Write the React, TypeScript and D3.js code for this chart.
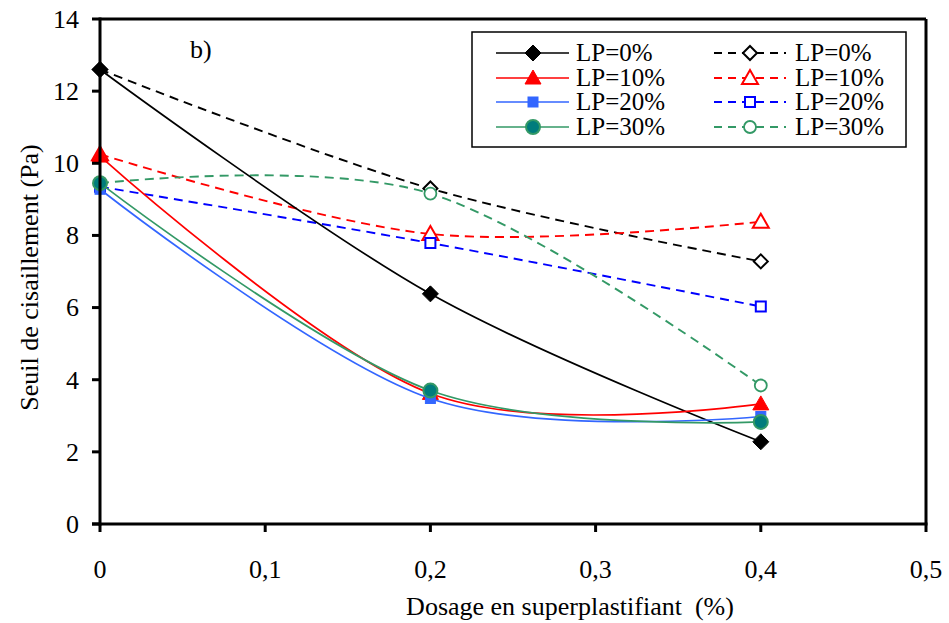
import React from "react";
import * as d3 from "d3";

const dosage = [0, 0.2, 0.4];
const seriesNames = ["LP=0%", "LP=10%", "LP=20%", "LP=30%"];
// solid series (filled markers)
const solidLP0 = [12.6, 6.38, 2.28];
const solidLP10 = [10.2, 3.62, 3.33];
const solidLP20 = [9.28, 3.48, 2.98];
const solidLP30 = [9.45, 3.7, 2.83];
// dashed series (open markers)
const dashLP0 = [12.6, 9.3, 7.28];
const dashLP10 = [10.25, 8.04, 8.38];
const dashLP20 = [9.35, 7.79, 6.03];
const dashLP30 = [9.45, 9.16, 3.84];

const xTicks = [0, 0.1, 0.2, 0.3, 0.4, 0.5];
const yTicks = [0, 2, 4, 6, 8, 10, 12, 14];

const W = 949, H = 623;
const L = 100, R = 926, T = 19, B = 524;
const TXT: React.CSSProperties = { fontFamily: '"Liberation Serif", "Times New Roman", Times, serif' };

type Marker = "diamond" | "triangle" | "square" | "circle";

const solidDefs = [
  { values: solidLP0, color: "#000000", marker: "diamond" as Marker, fill: "#000000", mstroke: "#000000" },
  { values: solidLP10, color: "#FF0000", marker: "triangle" as Marker, fill: "#FF0000", mstroke: "#FF0000" },
  { values: solidLP20, color: "#3366FF", marker: "square" as Marker, fill: "#3366FF", mstroke: "#3366FF" },
  { values: solidLP30, color: "#339966", marker: "circle" as Marker, fill: "#007C7C", mstroke: "#339966" },
];
const dashDefs = [
  { values: dashLP0, color: "#000000", marker: "diamond" as Marker },
  { values: dashLP10, color: "#FF0000", marker: "triangle" as Marker },
  { values: dashLP20, color: "#0000FF", marker: "square" as Marker },
  { values: dashLP30, color: "#339966", marker: "circle" as Marker },
];

function MarkerShape({ type, x, y, fill, stroke, open }: { type: Marker; x: number; y: number; fill: string; stroke: string; open?: boolean }) {
  const sw = open ? 2 : 1;
  if (type === "diamond") {
    const s = open ? 7 : 8;
    return <path d={`M${x},${y - s}L${x + s},${y}L${x},${y + s}L${x - s},${y}Z`} fill={fill} stroke={stroke} strokeWidth={sw} />;
  }
  if (type === "triangle") {
    const s = 8;
    return <path d={`M${x},${y - s}L${x + s},${y + s * 0.75}L${x - s},${y + s * 0.75}Z`} fill={fill} stroke={stroke} strokeWidth={sw} />;
  }
  if (type === "square") {
    const s = 5;
    return <rect x={x - s} y={y - s} width={2 * s} height={2 * s} fill={fill} stroke={stroke} strokeWidth={sw} />;
  }
  return <circle cx={x} cy={y} r={open ? 6 : 7} fill={fill} stroke={stroke} strokeWidth={open ? 1.8 : 2} />;
}

export default function App() {
  const x = d3.scaleLinear().domain([0, 0.5]).range([L, R]);
  const y = d3.scaleLinear().domain([0, 14]).range([B, T]);
  const line = d3
    .line<[number, number]>()
    .x((d) => x(d[0]))
    .y((d) => y(d[1]))
    .curve(d3.curveCardinal.tension(0));

  const pts = (vals: number[]) => dosage.map((d, i) => [d, vals[i]] as [number, number]);
  const fmt = (v: number) => (v === 0 ? "0" : d3.format(".1f")(v).replace(".", ","));

  const legX = 472, legY = 32, legW = 434, legH = 115;
  const rowY = [53, 78, 102, 127];

  return (
    <svg width={W} height={H} style={{ position: "absolute", left: 0, top: 0, background: "#fff" }}>
      {/* dashed series */}
      {dashDefs.map((s, i) => (
        <g key={"d" + i}>
          <path d={line(pts(s.values)) || ""} fill="none" stroke={s.color} strokeWidth={1.9} strokeDasharray="9,6" />
          {pts(s.values).map((p, j) => (
            <MarkerShape key={j} type={s.marker} x={x(p[0])} y={y(p[1])} fill="#fff" stroke={s.color} open />
          ))}
        </g>
      ))}
      {/* solid series */}
      {solidDefs.map((s, i) => (
        <g key={"s" + i}>
          <path d={line(pts(s.values)) || ""} fill="none" stroke={s.color} strokeWidth={1.7} />
          {pts(s.values).map((p, j) => (
            <MarkerShape key={j} type={s.marker} x={x(p[0])} y={y(p[1])} fill={s.fill} stroke={s.mstroke} />
          ))}
        </g>
      ))}

      {/* frame */}
      <line x1={L} y1={T} x2={R} y2={T} stroke="#000" strokeWidth={3} />
      <line x1={R} y1={T} x2={R} y2={B} stroke="#000" strokeWidth={3} />
      <line x1={L} y1={T - 1.5} x2={L} y2={B + 1.5} stroke="#000" strokeWidth={3} />
      <line x1={L - 8} y1={B} x2={R + 1.5} y2={B} stroke="#000" strokeWidth={3} />

      {/* y ticks */}
      {yTicks.map((t) => (
        <g key={"y" + t}>
          <line x1={L - 8} x2={L} y1={y(t)} y2={y(t)} stroke="#000" strokeWidth={3} />
          <text x={79} y={y(t)} dy="0.34em" textAnchor="end" fontSize={26} style={TXT}>
            {t}
          </text>
        </g>
      ))}
      {/* x ticks */}
      {xTicks.map((t) => (
        <g key={"x" + t}>
          <line x1={x(t)} x2={x(t)} y1={B} y2={B + 8} stroke="#000" strokeWidth={3} />
          <text x={x(t)} y={578} textAnchor="middle" fontSize={26} style={TXT}>
            {fmt(t)}
          </text>
        </g>
      ))}

      {/* axis titles */}
      <text x={570} y={615} textAnchor="middle" fontSize={26} style={{ ...TXT, whiteSpace: "pre" }}>
        {"Dosage en superplastifiant  (%)"}
      </text>
      <text transform={`translate(38,${(T + B) / 2 + 6}) rotate(-90)`} textAnchor="middle" fontSize={26} style={TXT}>
        Seuil de cisaillement (Pa)
      </text>
      <text x={190} y={58} fontSize={26} style={TXT}>
        b)
      </text>

      {/* legend */}
      <rect x={legX} y={legY} width={legW} height={legH} fill="#fff" stroke="#000" strokeWidth={1.5} />
      {solidDefs.map((s, i) => (
        <g key={"ls" + i}>
          <line x1={496} x2={569} y1={rowY[i]} y2={rowY[i]} stroke={s.color} strokeWidth={1.7} />
          <MarkerShape type={s.marker} x={533} y={rowY[i]} fill={s.fill} stroke={s.mstroke} />
          <text x={576} y={rowY[i]} dy="0.32em" fontSize={25} style={TXT}>
            {seriesNames[i]}
          </text>
        </g>
      ))}
      {dashDefs.map((s, i) => (
        <g key={"ld" + i}>
          <line x1={714} x2={786} y1={rowY[i]} y2={rowY[i]} stroke={s.color} strokeWidth={1.9} strokeDasharray="8,6" />
          <MarkerShape type={s.marker} x={750} y={rowY[i]} fill="#fff" stroke={s.color} open />
          <text x={795} y={rowY[i]} dy="0.32em" fontSize={25} style={TXT}>
            {seriesNames[i]}
          </text>
        </g>
      ))}
    </svg>
  );
}
